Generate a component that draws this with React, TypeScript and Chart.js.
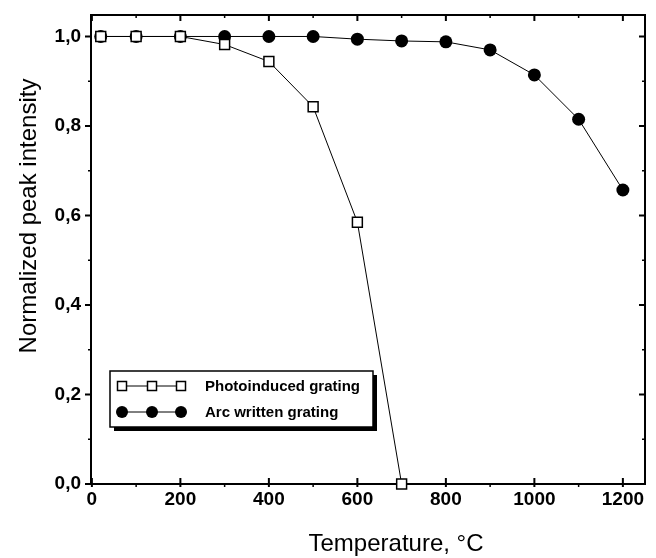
import React, { useEffect, useRef } from "react";
import { Chart, registerables } from "chart.js";

Chart.register(...registerables);

// ---- data ----
const temperaturesPhoto = [20, 100, 200, 300, 400, 500, 600, 700];
const intensityPhoto = [1.0, 1.0, 1.0, 0.982, 0.944, 0.843, 0.585, 0.0];
const temperaturesArc = [20, 100, 200, 300, 400, 500, 600, 700, 800, 900, 1000, 1100, 1200];
const intensityArc = [1.0, 1.0, 1.0, 1.0, 1.0, 1.0, 0.994, 0.99, 0.988, 0.97, 0.914, 0.815, 0.657];
const xTickValues = [0, 200, 400, 600, 800, 1000, 1200];
const xMinorValues = [100, 300, 500, 700, 900, 1100];
const yTickValues = [0, 0.2, 0.4, 0.6, 0.8, 1.0];
const yMinorValues = [0.1, 0.3, 0.5, 0.7, 0.9];
const seriesNames = ["Photoinduced grating", "Arc written grating"];
const xTitle = "Temperature, °C";
const yTitle = "Normalized peak intensity";

const FONT = '"Liberation Sans", Arial, sans-serif';

const framePlugin = {
  id: "frame",
  beforeDatasetsDraw(chart: any) {
    const { ctx, chartArea } = chart;
    const { left, right, top, bottom } = chartArea;
    const xs = chart.scales.x;
    const ys = chart.scales.y;
    ctx.save();
    ctx.strokeStyle = "#000";
    ctx.lineWidth = 2;
    ctx.strokeRect(left, top, right - left, bottom - top);
    ctx.beginPath();
    for (const v of xTickValues) {
      const p = xs.getPixelForValue(v);
      ctx.moveTo(p, bottom + 3);
      ctx.lineTo(p, bottom - 6);
      ctx.moveTo(p, top);
      ctx.lineTo(p, top + 6);
    }
    for (const v of yTickValues) {
      const p = ys.getPixelForValue(v);
      ctx.moveTo(left - 6, p);
      ctx.lineTo(left, p);
      ctx.moveTo(right, p);
      ctx.lineTo(right - 6, p);
    }
    ctx.stroke();
    ctx.beginPath();
    ctx.lineWidth = 1.5;
    for (const v of xMinorValues) {
      const p = xs.getPixelForValue(v);
      ctx.moveTo(p, bottom + 3);
      ctx.lineTo(p, bottom);
      ctx.moveTo(p, top);
      ctx.lineTo(p, top + 3);
    }
    for (const v of yMinorValues) {
      const p = ys.getPixelForValue(v);
      ctx.moveTo(left - 3, p);
      ctx.lineTo(left, p);
      ctx.moveTo(right, p);
      ctx.lineTo(right - 3, p);
    }
    ctx.stroke();
    ctx.restore();
  },
  afterDraw(chart: any) {
    const { ctx } = chart;
    ctx.save();
    ctx.fillStyle = "#000";
    // axis titles
    ctx.font = `24px ${FONT}`;
    ctx.textAlign = "center";
    ctx.textBaseline = "alphabetic";
    ctx.fillText(xTitle, 396, 551);
    ctx.translate(29, 216);
    ctx.rotate(-Math.PI / 2);
    ctx.textBaseline = "middle";
    ctx.fillText(yTitle, 0, 0);
    ctx.restore();

    // legend
    ctx.save();
    const bx = 110, by = 371, bw = 263, bh = 56;
    ctx.fillStyle = "#000";
    ctx.fillRect(bx + 4, by + 4, bw, bh);
    ctx.fillStyle = "#fff";
    ctx.fillRect(bx, by, bw, bh);
    ctx.strokeStyle = "#000";
    ctx.lineWidth = 1.5;
    ctx.strokeRect(bx, by, bw, bh);
    const mx = [122, 152, 181];
    const rows = [386, 412];
    ctx.lineWidth = 1;
    rows.forEach((ry) => {
      ctx.beginPath();
      ctx.moveTo(mx[0], ry);
      ctx.lineTo(mx[2], ry);
      ctx.stroke();
    });
    ctx.lineWidth = 1.5;
    mx.forEach((x) => {
      ctx.fillStyle = "#fff";
      ctx.fillRect(x - 4.5, rows[0] - 4.5, 9, 9);
      ctx.strokeRect(x - 4.5, rows[0] - 4.5, 9, 9);
    });
    ctx.fillStyle = "#000";
    mx.forEach((x) => {
      ctx.beginPath();
      ctx.arc(x, rows[1], 6, 0, Math.PI * 2);
      ctx.fill();
    });
    ctx.font = `bold 15px ${FONT}`;
    ctx.textAlign = "left";
    ctx.textBaseline = "middle";
    ctx.fillText(seriesNames[0], 205, rows[0] + 1);
    ctx.fillText(seriesNames[1], 205, rows[1] + 1);
    ctx.restore();
  },
};

export default function App() {
  const ref = useRef<HTMLCanvasElement | null>(null);
  useEffect(() => {
    if (!ref.current) return;
    const chart = new Chart(ref.current, {
      type: "scatter",
      data: {
        datasets: [
          {
            label: seriesNames[0],
            data: temperaturesPhoto.map((x, i) => ({ x, y: intensityPhoto[i] })),
            showLine: true,
            borderColor: "#000",
            borderWidth: 1,
            pointStyle: "rect",
            pointRadius: 7,
            pointBackgroundColor: "#fff",
            pointBorderColor: "#000",
            pointBorderWidth: 1.5,
            clip: false,
          } as any,
          {
            label: seriesNames[1],
            data: temperaturesArc.map((x, i) => ({ x, y: intensityArc[i] })),
            showLine: true,
            borderColor: "#000",
            borderWidth: 1,
            pointStyle: "circle",
            pointRadius: 6.5,
            pointBackgroundColor: "#000",
            pointBorderColor: "#000",
            pointBorderWidth: 0,
            clip: false,
          } as any,
        ],
      },
      options: {
        responsive: false,
        animation: false,
        devicePixelRatio: 1,
        layout: { padding: { top: 15, right: 11, left: 0, bottom: 0 } },
        plugins: { legend: { display: false }, tooltip: { enabled: false } },
        scales: {
          x: {
            type: "linear",
            min: -2,
            max: 1250,
            grid: { display: false, drawTicks: false },
            border: { display: false },
            afterBuildTicks: (s: any) => {
              s.ticks = xTickValues.map((v) => ({ value: v }));
            },
            afterFit: (s: any) => {
              s.height = 74;
              s.paddingLeft = 0;
              s.paddingRight = 0;
            },
            ticks: {
              padding: 4,
              color: "#000",
              maxRotation: 0,
              autoSkip: false,
              font: { family: FONT, size: 19, weight: "bold" },
              callback: (v: any) => String(v),
            },
          },
          y: {
            type: "linear",
            min: 0,
            max: 1.048,
            grid: { display: false, drawTicks: false },
            border: { display: false },
            afterBuildTicks: (s: any) => {
              s.ticks = yTickValues.map((v) => ({ value: v }));
            },
            afterFit: (s: any) => {
              s.width = 91;
              s.paddingTop = 0;
              s.paddingBottom = 0;
            },
            ticks: {
              padding: 10,
              color: "#000",
              autoSkip: false,
              font: { family: FONT, size: 19, weight: "bold" },
              callback: (v: any) => Number(v).toFixed(1).replace(".", ","),
            },
          },
        },
      },
      plugins: [framePlugin],
    });
    return () => chart.destroy();
  }, []);
  return (
    <div style={{ position: "absolute", left: 0, top: 0, width: 656, height: 558, background: "#fff" }}>
      <canvas ref={ref} width={656} height={558} style={{ display: "block" }} />
    </div>
  );
}
